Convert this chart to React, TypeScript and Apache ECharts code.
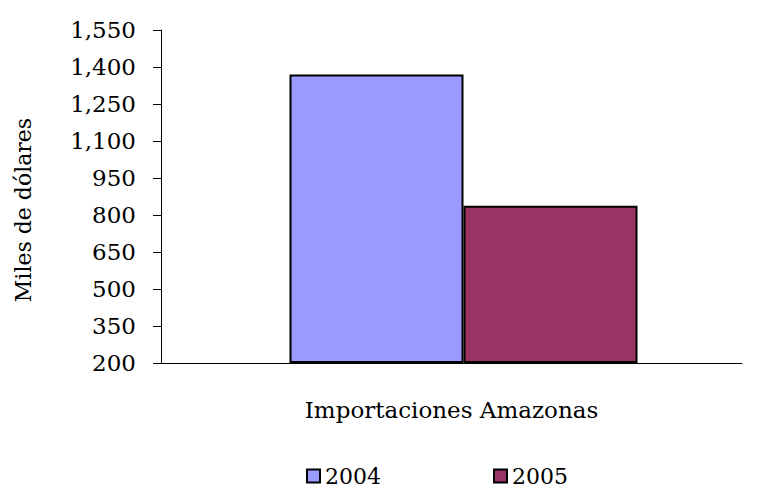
import React, { useEffect, useRef } from "react";
import * as echarts from "echarts";

const categories = ["Importaciones Amazonas"];
const seriesNames = ["2004", "2005"];
const values2004 = [1370];
const values2005 = [838];
const colors = ["#9999FF", "#993366"];
const yMin = 200;
const yMax = 1550;
const yStep = 150;
const yTitle = "Miles de dólares";

const FONT = "DejaVu Serif";

export default function App() {
  const ref = useRef<HTMLDivElement>(null);
  useEffect(() => {
    document.body.style.margin = "0";
    if (!ref.current) return;
    const chart = echarts.init(ref.current, null, { renderer: "svg" });
    const shift = (arr: number[]) => arr.map((v) => v - yMin);
    const yFmt = (v: number) => (v + yMin).toLocaleString("en-US");
    chart.setOption({
      animation: false,
      backgroundColor: "#ffffff",
      textStyle: { fontFamily: FONT, color: "#000" },
      grid: [
        { left: 161, right: 15, top: 30, bottom: 125, containLabel: false },
        { left: 185, right: 15, top: 30, bottom: 125, containLabel: false },
      ],
      graphic: [
        {
          type: "text",
          x: 23,
          y: 210,
          rotation: Math.PI / 2,
          style: {
            text: yTitle,
            fill: "#000",
            font: `22px '${FONT}'`,
            textAlign: "center",
            textVerticalAlign: "middle",
          },
        },
      ],
      xAxis: [
        {
          type: "category",
          gridIndex: 0,
          data: categories,
          axisLine: { show: true, lineStyle: { color: "#000", width: 1 } },
          axisTick: { show: false },
          axisLabel: { color: "#000", fontFamily: FONT, fontSize: 23, margin: 35 },
          splitLine: { show: false },
        },
        {
          type: "category",
          gridIndex: 1,
          data: categories,
          show: false,
        },
      ],
      yAxis: [
        {
          type: "value",
          gridIndex: 0,
          min: 0,
          max: yMax - yMin,
          interval: yStep,
          axisLine: { show: true, lineStyle: { color: "#000", width: 1 } },
          axisTick: { show: true, inside: false, length: 8, lineStyle: { color: "#000" } },
          axisLabel: { color: "#000", fontFamily: FONT, fontSize: 23, margin: 25, formatter: yFmt },
          splitLine: { show: false },
        },
        {
          type: "value",
          gridIndex: 1,
          min: 0,
          max: yMax - yMin,
          interval: yStep,
          show: false,
          splitLine: { show: false },
        },
      ],
      legend: {
        data: seriesNames,
        left: 301,
        top: 460,
        itemWidth: 13,
        itemHeight: 13,
        itemGap: 112,
        icon: "rect",
        textStyle: { color: "#000", fontFamily: FONT, fontSize: 22, padding: [0, 0, 0, 0] },
      },
      series: [
        {
          name: seriesNames[0],
          type: "bar",
          xAxisIndex: 1,
          yAxisIndex: 1,
          data: shift(values2004),
          barWidth: 174,
          barGap: 0,
          itemStyle: { color: colors[0], borderColor: "#000", borderWidth: 2 },
        },
        {
          name: seriesNames[1],
          type: "bar",
          xAxisIndex: 1,
          yAxisIndex: 1,
          data: shift(values2005),
          barWidth: 174,
          barGap: 0,
          itemStyle: { color: colors[1], borderColor: "#000", borderWidth: 2 },
        },
      ],
    });
    return () => chart.dispose();
  }, []);
  return <div ref={ref} style={{ width: 757, height: 488 }} />;
}
